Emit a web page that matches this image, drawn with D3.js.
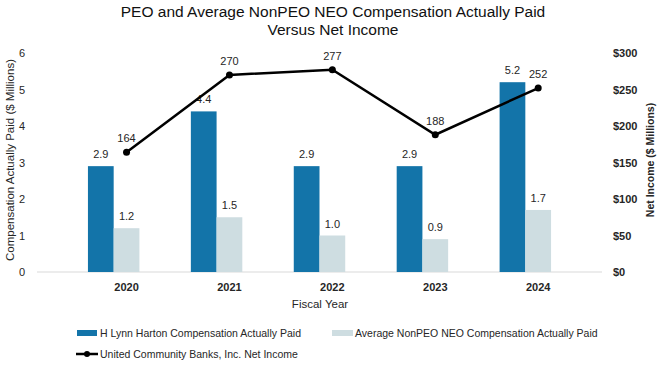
<!DOCTYPE html>
<html>
<head>
<meta charset="utf-8">
<script src="https://cdn.jsdelivr.net/npm/d3@7"></script>
<style>
body { margin: 0; background: #fff; }
svg { display: block; font-family: "Liberation Sans", Arial, sans-serif; }
</style>
</head>
<body>
<div id="chart"></div>
<script>
/* ==========================
   Data
========================== */

const years = ["2020", "2021", "2022", "2023", "2024"];
const peoPaid = [2.9, 4.4, 2.9, 2.9, 5.2];
const neoPaid = [1.2, 1.5, 1.0, 0.9, 1.7];
const netIncome = [164, 270, 277, 188, 252];
const leftTicks = [0, 1, 2, 3, 4, 5, 6];
const rightTicks = [0, 50, 100, 150, 200, 250, 300];

const darkBlue = "#1374a9";
const lightBlue = "#cedde1";
const textColor = "#262626";

/* ==========================
   Chart
========================== */

const width = 661;
const height = 366;

const svg = d3.select("#chart")
.append("svg")
.attr("width", width)
.attr("height", height);

const x = d3.scaleBand()
.domain(years)
.range([37, 602])
.paddingInner(0)
.paddingOuter(0.245);

const yLeft = d3.scaleLinear()
.domain([0, 6])
.range([272, 53]);

const yRight = d3.scaleLinear()
.domain([0, 300])
.range([272, 53]);

const barW = x.bandwidth() * 0.25;
const center = d => x(d) + x.bandwidth() / 2;

// title
svg.append("text")
.attr("x", 333)
.attr("y", 17)
.attr("text-anchor", "middle")
.attr("font-size", 15.5)
.attr("fill", "#111")
.text("PEO and Average NonPEO NEO Compensation Actually Paid");

svg.append("text")
.attr("x", 333)
.attr("y", 35)
.attr("text-anchor", "middle")
.attr("font-size", 15.5)
.attr("fill", "#111")
.text("Versus Net Income");

// left axis labels
svg.append("g")
.selectAll("text")
.data(leftTicks)
.enter()
.append("text")
.attr("x", 25)
.attr("y", d => yLeft(d) + 4)
.attr("text-anchor", "end")
.attr("font-size", 11)
.attr("fill", textColor)
.text(d => d);

// right axis labels
svg.append("g")
.selectAll("text")
.data(rightTicks)
.enter()
.append("text")
.attr("x", 613)
.attr("y", d => yRight(d) + 4)
.attr("font-size", 11)
.attr("font-weight", "bold")
.attr("fill", textColor)
.text(d => "$" + d);

// baseline
svg.append("line")
.attr("x1", 37)
.attr("x2", 602)
.attr("y1", yLeft(0))
.attr("y2", yLeft(0))
.attr("stroke", "#d9d9d9")
.attr("stroke-width", 1.2);

// bars
const bars = svg.append("g");

bars.selectAll(".peo")
.data(years)
.enter()
.append("rect")
.attr("x", d => center(d) - barW)
.attr("y", (d, i) => yLeft(peoPaid[i]))
.attr("width", barW)
.attr("height", (d, i) => yLeft(0) - yLeft(peoPaid[i]))
.attr("fill", darkBlue);

bars.selectAll(".neo")
.data(years)
.enter()
.append("rect")
.attr("x", d => center(d))
.attr("y", (d, i) => yLeft(neoPaid[i]))
.attr("width", barW)
.attr("height", (d, i) => yLeft(0) - yLeft(neoPaid[i]))
.attr("fill", lightBlue);

// bar labels
bars.selectAll(".peoLabel")
.data(years)
.enter()
.append("text")
.attr("x", d => center(d) - barW / 2)
.attr("y", (d, i) => yLeft(peoPaid[i]) - 8)
.attr("text-anchor", "middle")
.attr("font-size", 11)
.attr("fill", textColor)
.text((d, i) => peoPaid[i].toFixed(1));

bars.selectAll(".neoLabel")
.data(years)
.enter()
.append("text")
.attr("x", d => center(d) + barW / 2)
.attr("y", (d, i) => yLeft(neoPaid[i]) - 8)
.attr("text-anchor", "middle")
.attr("font-size", 11)
.attr("fill", textColor)
.text((d, i) => neoPaid[i].toFixed(1));

// net income line
const lineX = d => center(d) + barW / 2;

const line = d3.line()
.x(d => lineX(d))
.y((d, i) => yRight(netIncome[i]));

svg.append("path")
.datum(years)
.attr("d", line)
.attr("fill", "none")
.attr("stroke", "#000")
.attr("stroke-width", 2.5);

svg.append("g")
.selectAll("circle")
.data(years)
.enter()
.append("circle")
.attr("cx", d => lineX(d))
.attr("cy", (d, i) => yRight(netIncome[i]))
.attr("r", 3.5)
.attr("fill", "#000");

svg.append("g")
.selectAll("text")
.data(years)
.enter()
.append("text")
.attr("x", d => lineX(d))
.attr("y", (d, i) => yRight(netIncome[i]) - 10)
.attr("text-anchor", "middle")
.attr("font-size", 11)
.attr("fill", textColor)
.text((d, i) => netIncome[i]);

// year labels
svg.append("g")
.selectAll("text")
.data(years)
.enter()
.append("text")
.attr("x", d => lineX(d))
.attr("y", 291)
.attr("text-anchor", "middle")
.attr("font-size", 11)
.attr("font-weight", "bold")
.attr("fill", textColor)
.text(d => d);

// axis titles
svg.append("text")
.attr("x", 320)
.attr("y", 308)
.attr("text-anchor", "middle")
.attr("font-size", 11.5)
.attr("fill", textColor)
.text("Fiscal Year");

svg.append("text")
.attr("transform", "translate(14,160) rotate(-90)")
.attr("text-anchor", "middle")
.attr("font-size", 11.5)
.attr("fill", textColor)
.text("Compensation Actually Paid ($ Millions)");

svg.append("text")
.attr("transform", "translate(654,160) rotate(-90)")
.attr("text-anchor", "middle")
.attr("font-size", 10.5)
.attr("font-weight", "bold")
.attr("fill", textColor)
.text("Net Income ($ Millions)");

/* ==========================
   Legend
========================== */

const legend = svg.append("g")
.attr("font-size", 10.5)
.attr("fill", textColor);

legend.append("rect")
.attr("x", 77).attr("y", 330).attr("width", 20).attr("height", 6)
.attr("fill", darkBlue);
legend.append("text")
.attr("x", 100).attr("y", 337)
.text("H Lynn Harton Compensation Actually Paid");

legend.append("rect")
.attr("x", 332).attr("y", 330).attr("width", 21).attr("height", 6)
.attr("fill", lightBlue);
legend.append("text")
.attr("x", 355).attr("y", 337)
.text("Average NonPEO NEO Compensation Actually Paid");

legend.append("line")
.attr("x1", 76).attr("x2", 98).attr("y1", 354).attr("y2", 354)
.attr("stroke", "#000").attr("stroke-width", 2.5);
legend.append("circle")
.attr("cx", 87).attr("cy", 354).attr("r", 3)
.attr("fill", "#000");
legend.append("text")
.attr("x", 100).attr("y", 358)
.text("United Community Banks, Inc. Net Income");
</script>
</body>
</html>
